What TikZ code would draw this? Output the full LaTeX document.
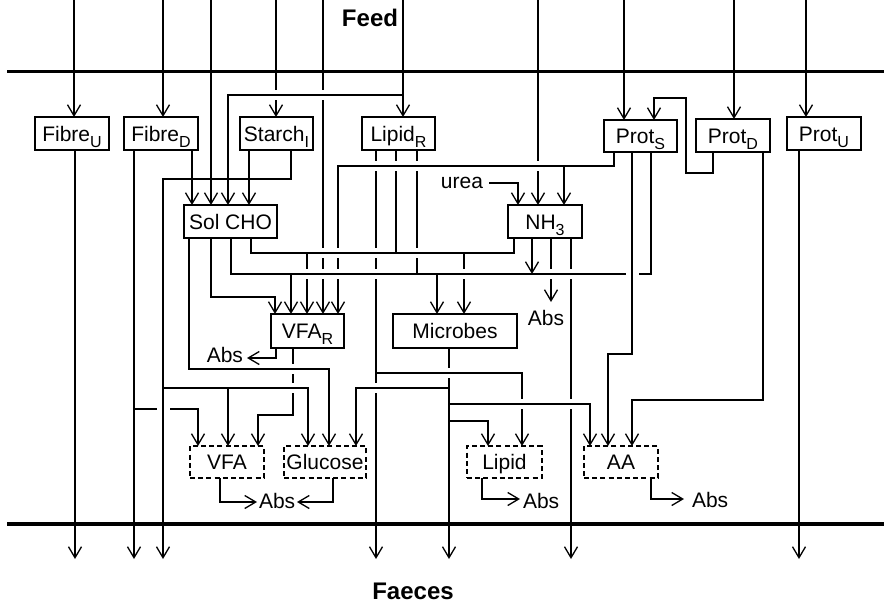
\documentclass[tikz,border=0pt]{standalone}
\usepackage{fontspec}
\setmainfont{Liberation Sans}
\usetikzlibrary{arrows.meta}
\newcommand\fs{\fontsize{21}{25}\selectfont}
\newcommand\titlefont{\fontsize{24}{28}\selectfont\bfseries}
\newcommand\mysub[1]{\raisebox{-6pt}[0pt][0pt]{\fontsize{16}{16}\selectfont #1}}
\newcommand\gapv[2]{\fill[white] (#1-2.5,#2-5) rectangle (#1+2.5,#2+5); \draw (#1-4,#2) -- (#1+4,#2);}
\newcommand\gaph[2]{\fill[white] (#1-6.5,#2-2.5) rectangle (#1+6.5,#2+2.5); \draw (#1,#2-4) -- (#1,#2+4);}
\begin{document}
\begin{tikzpicture}[x=1pt,y=-1pt,line width=1.3pt,
  >={Straight Barb[length=11pt,width=13pt]}, font=\fs,
  box/.style={draw,line width=1.3pt,minimum width=74pt,minimum height=33pt,inner sep=0pt,outer sep=0pt,text height=15pt,text depth=0pt},
  dbox/.style={box,line width=2pt,dash pattern=on 5pt off 3.2pt,minimum height=32pt},
  lbl/.style={inner sep=0pt,outer sep=0pt},
  rule/.style={line width=3.2pt}]
\useasboundingbox (0,0) rectangle (884,605);

% titles
\node[lbl,anchor=base,font=\titlefont] (feed) at (370,27) {Feed};
\node[lbl,anchor=base,font=\titlefont] (faeces) at (413,599) {Faeces};

% rules
\coordinate (tl) at (7,71.5); \coordinate (tr) at (884,71.5);
\coordinate (bl) at (7,524); \coordinate (br) at (884,524);
\draw[rule] (tl) -- (tr);
\draw[rule] (bl) -- (br);

% boxes
\node[box] (fibreU) at (72,133.5) {Fibre\mysub{U}};
\node[box] (fibreD) at (161,133.5) {Fibre\mysub{D}};
\node[box,minimum width=73pt] (starch) at (276.5,133.5) {Starch\mysub{I}};
\node[box,minimum width=73pt] (lipidR) at (398.5,133.5) {Lipid\mysub{R}};
\node[box,minimum width=73pt,minimum height=32pt] (protS) at (640.5,136) {Prot\mysub{S}};
\node[box] (protD) at (733,135.5) {Prot\mysub{D}};
\node[box] (protU) at (824,133.5) {Prot\mysub{U}};
\node[box,minimum width=93pt] (solcho) at (230.5,221.5) {Sol CHO};
\node[box] (nh3) at (545,221.5) {NH\mysub{3}};
\node[box,minimum width=73pt,minimum height=34pt] (vfaR) at (307.5,331) {VFA\mysub{R}};
\node[box,minimum width=124pt,minimum height=34pt] (microbes) at (455,331) {Microbes};
\node[dbox] (vfa) at (227,462) {VFA};
\node[dbox,minimum width=82pt] (glucose) at (325,462) {Glucose};
\node[dbox,minimum width=75pt] (lipid) at (504.5,462) {Lipid};
\node[dbox] (aa) at (621,462) {AA};

% feeds
\draw[->] (74,0) -- (74,0 |- fibreU.north);
\draw[->] (163,0) -- (163,0 |- fibreD.north);
\draw[->] (211,0) -- (211,0 |- solcho.north);
\draw[->] (276,0) -- (276,0 |- starch.north);
\draw[->] (323,0) -- (323,0 |- vfaR.north);
\draw[->] (403,0) -- (403,0 |- lipidR.north);
\draw[->] (403,95) -- (228,95) -- (228,0 |- solcho.north);
\draw[->] (538,0) -- (538,0 |- nh3.north);
\draw[->] (624,0) -- (624,0 |- protS.north);
\draw[->] (734,0) -- (734,0 |- protD.north);
\draw[->] (806,0) -- (806,0 |- protU.north);

% fibre, starch
\draw[->] (75,0 |- fibreU.south) -- (75,559);
\draw[->] (134,0 |- fibreD.south) -- (134,559);
\draw[->] (134,409) -- (198,409) -- (198,0 |- vfa.north);
\draw[->] (192,0 |- fibreD.south) -- (192,0 |- solcho.north);
\draw[->] (249,0 |- starch.south) -- (249,0 |- solcho.north);
\draw[->] (291,0 |- starch.south) -- (291,179) -- (163,179) -- (163,559);
\draw[->] (163,388) -- (308,388) -- (308,0 |- glucose.north);
\draw[->] (228,388) -- (228,0 |- vfa.north);

% lipid R
\draw[->] (376,0 |- lipidR.south) -- (376,559);
\draw[->] (376,373) -- (522,373) -- (522,0 |- lipid.north);
\draw (396,0 |- lipidR.south) -- (396,253);
\draw (417,0 |- lipidR.south) -- (417,274);

% sol CHO
\draw[->] (189,0 |- solcho.south) -- (189,369) -- (329,369) -- (329,0 |- glucose.north);
\draw[->] (211,0 |- solcho.south) -- (211,297) -- (275,297) -- (275,0 |- vfaR.north);
\draw (231,0 |- solcho.south) -- (231,274) -- (651,274) -- (651,0 |- protS.south);
\draw[->] (291,274) -- (291,0 |- vfaR.north);
\draw[->] (437,274) -- (437,0 |- microbes.north);
\draw (251,0 |- solcho.south) -- (251,253) -- (514,253) -- (514,0 |- nh3.south);
\draw[->] (307,253) -- (307,0 |- vfaR.north);
\draw[->] (464,253) -- (464,0 |- microbes.north);

% NH3
\node[lbl,anchor=base east] (urea) at (483,188) {urea};
\draw[->] (489,183) -- (518,183) -- (518,0 |- nh3.north);
\draw[->] (532,0 |- nh3.south) -- (532,274);
\draw[->] (551,0 |- nh3.south) -- (551,302);
\node[lbl,anchor=base] (absN) at (546,325) {Abs};
\draw[->] (571,0 |- nh3.south) -- (571,559);

% prot
\draw[->] (614,0 |- protS.south) -- (614,166) -- (338,166) -- (338,0 |- vfaR.north);
\draw[->] (564,166) -- (564,0 |- nh3.north);
\draw[->] (632,0 |- protS.south) -- (632,354) -- (608,354) -- (608,0 |- aa.north);
\draw[->] (713,0 |- protD.south) -- (713,173) -- (686,173) -- (686,98) -- (654,98) -- (654,0 |- protS.north);
\draw[->] (763,0 |- protD.south) -- (763,400) -- (632,400) -- (632,0 |- aa.north);
\draw[->] (799,0 |- protU.south) -- (799,559);

% VFA R
\draw[->] (276,0 |- vfaR.south) -- (276,358) -- (247,358);
\node[lbl,anchor=base east] (absR) at (243,362) {Abs};
\draw[->] (293,0 |- vfaR.south) -- (293,415) -- (258,415) -- (258,0 |- vfa.north);

% microbes
\draw[->] (449,0 |- microbes.south) -- (449,559);
\draw[->] (449,388) -- (356,388) -- (356,0 |- glucose.north);
\draw[->] (449,404) -- (590,404) -- (590,0 |- aa.north);
\draw[->] (449,421) -- (488,421) -- (488,0 |- lipid.north);

% absorption
\node[lbl,anchor=base west] (abs1) at (259,508) {Abs};
\draw[->] (220,0 |- vfa.south) -- (220,502) -- (257,502);
\draw[->] (333,0 |- glucose.south) -- (333,502) -- (297,502);
\node[lbl,anchor=base west] (abs2) at (523,508) {Abs};
\draw[->] (482,0 |- lipid.south) -- (482,499) -- (520,499);
\node[lbl,anchor=base west] (abs3) at (692,507) {Abs};
\draw[->] (651,0 |- aa.south) -- (651,499) -- (684,499);

% crossing gaps
\gapv{276}{95}\gapv{323}{95}
\gapv{323}{253}\gapv{323}{274}\gapv{338}{253}\gapv{338}{274}
\gapv{376}{166}\gapv{376}{253}\gapv{376}{274}\gapv{376}{388}
\gapv{396}{166}\gapv{417}{166}\gapv{417}{253}\gapv{538}{166}
\gapv{307}{274}\gapv{464}{274}\gapv{551}{274}\gapv{571}{274}
\gapv{571}{404}\gapv{522}{404}\gapv{449}{373}\gapv{293}{369}\gapv{293}{388}
\gaph{632}{274}\gaph{163}{409}
\end{tikzpicture}
\end{document}
